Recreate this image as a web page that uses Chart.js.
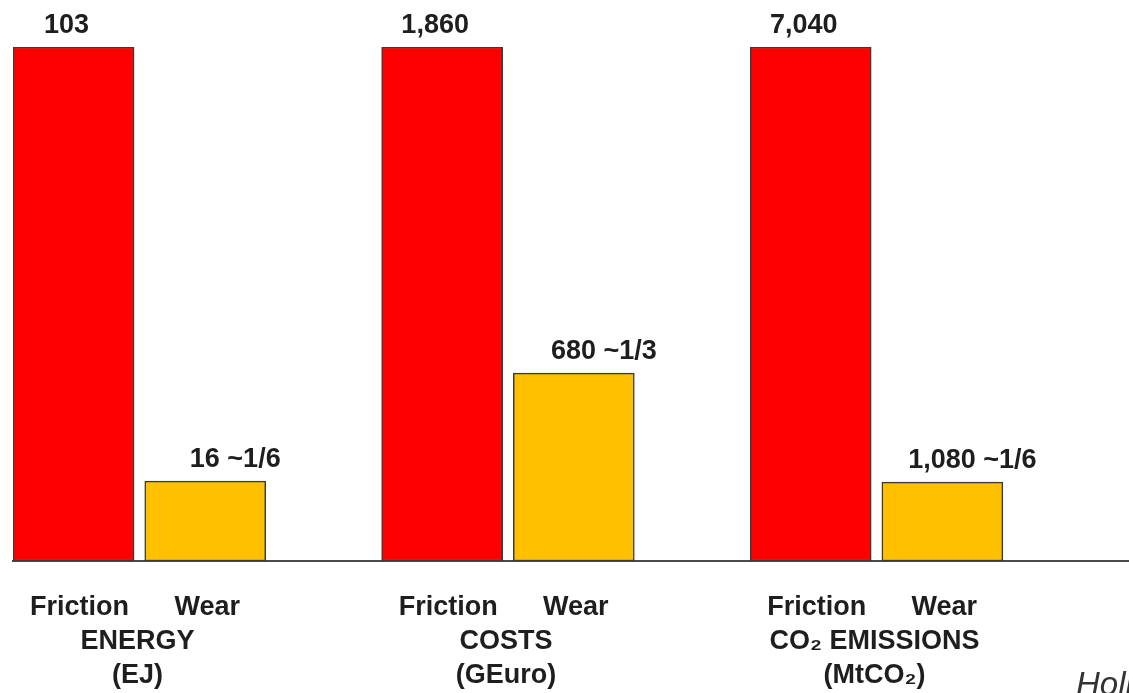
<!DOCTYPE html>
<html>
<head>
<meta charset="utf-8">
<title>Friction and wear: energy, costs and CO2 emissions</title>
<script src="https://cdn.jsdelivr.net/npm/chart.js@4.4.1/dist/chart.umd.min.js"></script>
<style>
  html, body { margin: 0; padding: 0; background: #ffffff; overflow: hidden; }
  canvas { display: block; }
</style>
</head>
<body>
<canvas id="chart" width="1129" height="693"></canvas>
<script>
// Global impact of friction and wear, per category
const groupNames = ['ENERGY', 'COSTS', 'CO\u2082 EMISSIONS'];
const groupUnits = ['(EJ)', '(GEuro)', '(MtCO\u2082)'];
const seriesNames = ['Friction', 'Wear'];
const frictionValues = [103, 1860, 7040];
const wearValues = [16, 680, 1080];
const wearShares = ['~1/6', '~1/3', '~1/6'];
const sourceNote = 'Holmberg & Erdemir';

const FONT = '"Liberation Sans", Arial, Helvetica, sans-serif';
const TEXT_COLOR = '#1e1e1e';
const BAR_OFFSET = 0.1786;   // half distance between the two bars of a group, in group units

// Each category has its own unit, so bars are drawn as a share of the friction value
const share = (v, i) => v / frictionValues[i] * 100;
const fmt = v => v.toLocaleString('en-US');

const labelPlugin = {
  id: 'barLabels',
  afterDraw(chart) {
    const ctx = chart.ctx;
    const frictionBars = chart.getDatasetMeta(0).data;
    const wearBars = chart.getDatasetMeta(1).data;
    const xScale = chart.scales.x;
    const base = chart.chartArea.bottom;

    ctx.save();
    ctx.fillStyle = TEXT_COLOR;
    ctx.textAlign = 'center';
    ctx.textBaseline = 'alphabetic';
    ctx.font = `bold 27px ${FONT}`;

    // value labels above the bars
    frictionBars.forEach((bar, i) => {
      ctx.fillText(fmt(frictionValues[i]), bar.x - 7, bar.y - 14);
    });
    wearBars.forEach((bar, i) => {
      ctx.fillText(`${fmt(wearValues[i])} ${wearShares[i]}`, bar.x + 30, bar.y - 14);
    });

    // series names, category names and units below the axis
    frictionBars.forEach((bar) => {
      ctx.fillText(seriesNames[0], bar.x + 6, base + 54);
    });
    wearBars.forEach((bar) => {
      ctx.fillText(seriesNames[1], bar.x + 2, base + 54);
    });
    groupNames.forEach((name, i) => {
      const cx = xScale.getPixelForValue(i) - 2;
      ctx.fillText(name, cx, base + 88);
      ctx.fillText(groupUnits[i], cx, base + 122);
    });

    // source note in the lower right corner
    ctx.font = `italic 33px ${FONT}`;
    ctx.fillStyle = '#333333';
    ctx.textAlign = 'left';
    ctx.fillText(sourceNote, 1076, 695);
    ctx.restore();
  }
};

new Chart(document.getElementById('chart'), {
  type: 'bar',
  data: {
    datasets: [
      {
        label: seriesNames[0],
        data: frictionValues.map((v, i) => ({ x: i - BAR_OFFSET, y: share(v, i) })),
        backgroundColor: '#ff0000',
        borderColor: '#3a3a3a',
        borderWidth: 1.5,
        borderSkipped: false,
        barThickness: 121,
        grouped: false
      },
      {
        label: seriesNames[1],
        data: wearValues.map((v, i) => ({ x: i + BAR_OFFSET, y: share(v, i) })),
        backgroundColor: '#ffc000',
        borderColor: '#3a3a3a',
        borderWidth: 1.5,
        borderSkipped: false,
        barThickness: 121,
        grouped: false
      }
    ]
  },
  options: {
    responsive: false,
    animation: false,
    events: [],
    layout: { padding: { left: 13, right: 0, top: 47, bottom: 132 } },
    plugins: {
      legend: { display: false },
      tooltip: { enabled: false },
      title: { display: false }
    },
    scales: {
      x: {
        type: 'linear',
        offset: false,
        min: -0.343,
        max: 2.685,
        grid: { display: false, drawTicks: false },
        ticks: { display: false },
        border: { display: true, color: '#4a4a4a', width: 2 }
      },
      y: {
        display: false,
        min: 0,
        max: 100
      }
    }
  },
  plugins: [labelPlugin]
});
</script>
</body>
</html>
